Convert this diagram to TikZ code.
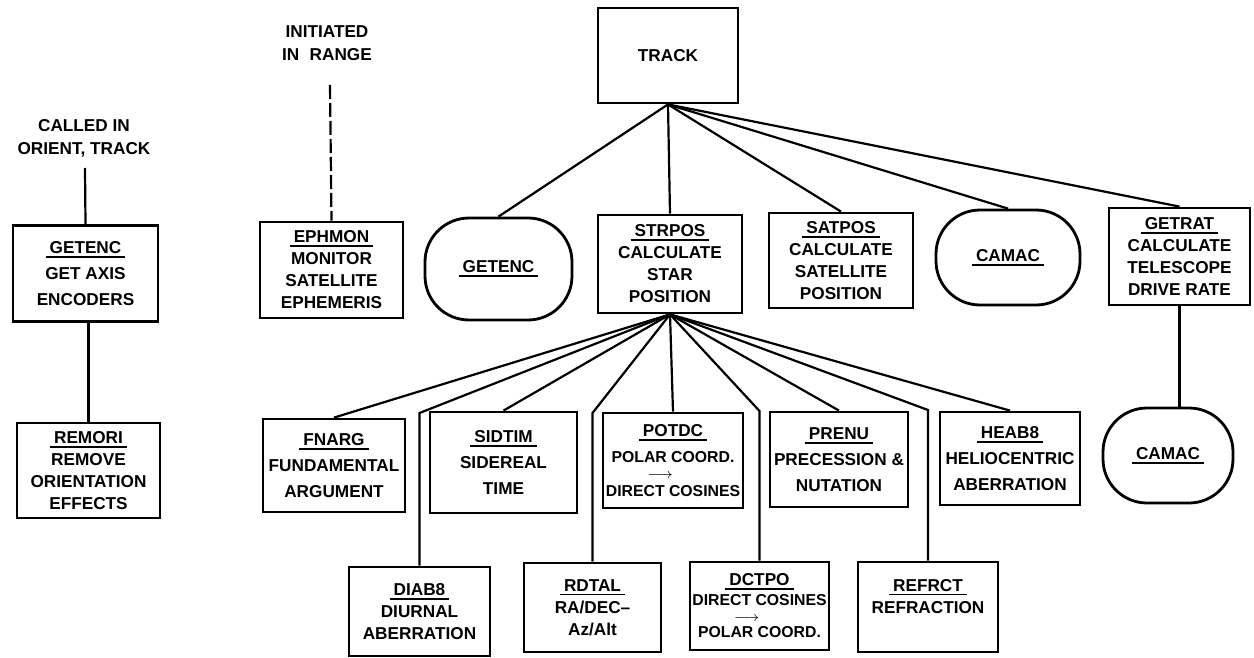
\documentclass[tikz,border=0pt]{standalone}
\usepackage{fontspec}
\setmainfont{Liberation Sans}
\usetikzlibrary{positioning}
\tikzset{
  box/.style={draw=black,line width=1.4pt,fill=white,align=center,inner sep=1pt,
    minimum width=71pt,minimum height=48pt,font=\bfseries\fontsize{8.6}{11}\selectfont},
  roomy/.style={font=\bfseries\fontsize{8.6}{13}\selectfont},
  pill/.style={box,rounded corners=22pt},
  note/.style={align=center,inner sep=0pt,font=\bfseries\fontsize{8.6}{11.5}\selectfont},
  wire/.style={draw=black,line width=1.1pt},
  cue/.style={wire,dash pattern=on 7pt off 2pt},
}
% underlined routine name
\newcommand{\ttl}[1]{\setbox0\hbox{\kern2pt#1\kern2pt}\vtop{\copy0\kern1.2pt\hrule height 0.9pt}}
% small arrow between two lines
\newcommand{\tarrow}[1]{\llap{\scriptsize$\longrightarrow$}\hspace*{#1}}

\begin{document}
\begin{tikzpicture}[x=0.5pt,y=-0.5pt]
\useasboundingbox (0,0) rectangle (1254,658);
% left column
\node[note] (called) at (84,138) {CALLED IN\\ORIENT, TRACK};
\coordinate (calledend) at (85,168);
\node[box,roomy,minimum width=72.5pt] (getencL) at (85.5,273.5) {\ttl{GETENC}\\GET AXIS\\ENCODERS};
\node[box,minimum width=71.5pt,minimum height=47.5pt] (remori) at (88.5,470.5) {\ttl{REMORI}\\REMOVE\\ORIENTATION\\EFFECTS};
% ephemeris monitor
\node[note] (initiated) at (327,43) {INITIATED\\IN\hspace{0.6em}RANGE};
\coordinate (initend) at (330,85);
\node[box,minimum width=71.5pt] (ephmon) at (331.5,270) {\ttl{EPHMON}\\MONITOR\\SATELLITE\\EPHEMERIS};
% track and first level
\node[box,minimum width=70pt,minimum height=47.5pt] (track) at (668,55.5) {TRACK};
\node[pill,minimum width=73.5pt,minimum height=51pt] (getenc) at (498.5,269) {\ttl{GETENC}};
\node[box,minimum width=72pt,minimum height=49pt] (strpos) at (670,264) {\ttl{STRPOS}\\CALCULATE\\STAR\\POSITION};
\node[box,minimum width=72pt,minimum height=47.5pt] (satpos) at (841,260.5) {\ttl{SATPOS}\\CALCULATE\\SATELLITE\\POSITION};
\node[pill,minimum width=72pt,minimum height=47.5pt] (camac) at (1008,257.5) {\ttl{CAMAC}};
\node[box,minimum width=70.5pt,minimum height=48.5pt] (getrat) at (1179.5,256.5) {\ttl{GETRAT}\\CALCULATE\\TELESCOPE\\DRIVE RATE};
% second level
\node[box,roomy,minimum height=46.5pt] (fnarg) at (334,465.5) {\ttl{FNARG}\\FUNDAMENTAL\\ARGUMENT};
\node[box,roomy,minimum width=73.5pt,minimum height=50.5pt] (sidtim) at (503.5,462.5) {\ttl{SIDTIM}\\SIDEREAL\\TIME};
\node[box,minimum width=70pt,minimum height=47.5pt] (potdc) at (673,460.5)
  {\ttl{POTDC}\\[2pt]{\fontsize{7.9}{11}\selectfont POLAR COORD.}\\[-3pt]\tarrow{8pt}\\[-2pt]{\fontsize{7.9}{11}\selectfont DIRECT COSINES}};
\node[box,roomy,minimum width=69pt,minimum height=47.5pt] (prenu) at (839,459.5) {\ttl{PRENU}\\PRECESSION \&\\NUTATION};
\node[box,roomy,minimum width=70pt,minimum height=46.5pt] (heab8) at (1010,458.5) {\ttl{HEAB8}\\HELIOCENTRIC\\ABERRATION};
\node[pill,minimum width=65pt,minimum height=47.5pt] (camac2) at (1168,455.5) {\ttl{CAMAC}};
% third level
\node[box,minimum width=70.5pt,minimum height=44.5pt] (diab8) at (419.5,611.5) {\ttl{DIAB8}\\DIURNAL\\ABERRATION};
\node[box,minimum width=68.5pt,minimum height=44.5pt] (rdtal) at (592.5,607.5) {\ttl{RDTAL}\\RA/DEC--\\Az/Alt};
\node[box,minimum width=69.5pt,minimum height=44pt] (dctpo) at (759.5,606)
  {\ttl{DCTPO}\\[-1pt]{\fontsize{7.9}{11}\selectfont DIRECT COSINES}\\[-3pt]\tarrow{2.75pt}\\[-3pt]{\fontsize{7.9}{11}\selectfont POLAR COORD.}};
\node[box,minimum width=70pt,minimum height=45pt] (refrct) at (928,607) {\ttl{REFRCT}\\REFRACTION\\\mbox{}};
% elbows of the long legs
\coordinate (kdiab) at (419.5,413);
\coordinate (krdtal) at (592.5,413);
\coordinate (kdctpo) at (759.5,411);
\coordinate (krefr) at (928,410);
% connectors
\draw[wire] (calledend) -- (getencL.north);
\draw[wire] (remori.north |- getencL.south) -- (remori.north);
\draw[cue] (initend) -- (ephmon.north);
\foreach \t in {getenc,strpos,satpos,camac,getrat}
  \draw[wire] (track.south) -- (\t.north);
\foreach \t in {fnarg,sidtim,potdc,prenu,heab8}
  \draw[wire] (strpos.south) -- (\t.north);
\foreach \t/\k in {diab8/kdiab,rdtal/krdtal,dctpo/kdctpo,refrct/krefr}
  \draw[wire] (strpos.south) -- (\t.north |- \k) -- (\t.north);
\draw[wire] (getrat.south) -- (getrat.south |- camac2.north);
\end{tikzpicture}
\end{document}
